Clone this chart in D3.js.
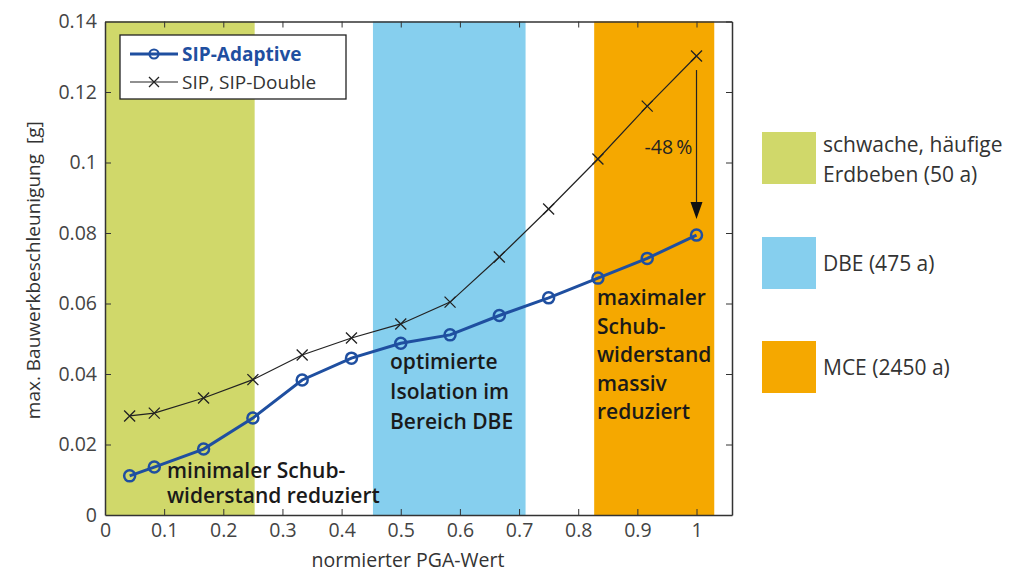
<!DOCTYPE html>
<html><head><meta charset="utf-8">
<script src="https://cdn.jsdelivr.net/npm/d3@7"></script>
<style>body{margin:0;background:#fff;}svg{display:block;font-family:"Open Sans", sans-serif;}</style>
</head><body><svg id="c" width="1018" height="572"></svg>
<script>
const xValues = [1/24, 1/12, 2/12, 3/12, 4/12, 5/12, 6/12, 7/12, 8/12, 9/12, 10/12, 11/12, 1];
const sipAdaptive = [0.0111, 0.0136, 0.0187, 0.0275, 0.0383, 0.0445, 0.0487, 0.0511, 0.0566, 0.0616, 0.0672, 0.0728, 0.0794];
const sipDouble = [0.0281, 0.0289, 0.0332, 0.0384, 0.0454, 0.0502, 0.0542, 0.0604, 0.0732, 0.0868, 0.1010, 0.1160, 0.1302];
const xTicks = [0, 0.1, 0.2, 0.3, 0.4, 0.5, 0.6, 0.7, 0.8, 0.9, 1];
const yTicks = [0, 0.02, 0.04, 0.06, 0.08, 0.1, 0.12, 0.14];
const yTickLabels = ["0", "0.02", "0.04", "0.06", "0.08", "0.1", "0.12", "0.14"];
const bandNames = ["schwache, häufige\nErdbeben (50 a)", "DBE (475 a)", "MCE (2450 a)"];
const bandStart = [0, 0.453, 0.827];
const bandEnd = [0.253, 0.711, 1.03];
const bandColors = ["#d0d86a", "#86cfee", "#f5a800"];
const seriesNames = ["SIP-Adaptive", "SIP, SIP-Double"];

const svg = d3.select("#c");
const L = 105, R = 732, T = 21.5, B = 515;
const x = d3.scaleLinear().domain([0, 1.06]).range([L, R]);
const y = d3.scaleLinear().domain([0, 0.14]).range([B, T]);

// bands
bandStart.forEach((s, i) => {
  svg.append("rect").attr("x", x(s)).attr("y", T).attr("width", x(bandEnd[i]) - x(s)).attr("height", B - T).attr("fill", bandColors[i]);
});

// axes (box with inward ticks)
const axCol = "#333";
const gB = svg.append("g").attr("transform", `translate(0,${B})`).call(d3.axisBottom(x).tickValues(xTicks).tickSizeInner(-6).tickSizeOuter(0).tickPadding(8).tickFormat(d3.format("~g")));
const gT = svg.append("g").attr("transform", `translate(0,${T})`).call(d3.axisTop(x).tickValues(xTicks).tickSizeInner(-6).tickSizeOuter(0).tickFormat(""));
const gL = svg.append("g").attr("transform", `translate(${L},0)`).call(d3.axisLeft(y).tickValues(yTicks).tickSizeInner(-6).tickSizeOuter(0).tickPadding(8).tickFormat((d, i) => yTickLabels[i]));
const gR = svg.append("g").attr("transform", `translate(${R},0)`).call(d3.axisRight(y).tickValues(yTicks).tickSizeInner(-6).tickSizeOuter(0).tickFormat(""));
[gB, gT, gL, gR].forEach(g => {
  g.select(".domain").attr("stroke", axCol).attr("stroke-width", 1.5);
  g.selectAll(".tick line").attr("stroke", axCol).attr("stroke-width", 1);
  g.selectAll("text").attr("fill", "#444").style("font-size", "19.5px").style("font-family", "'Open Sans', sans-serif");
});
gL.selectAll(".tick").filter(d => d === 0.14 || d === 0).select("line").remove();
gB.selectAll(".tick").filter(d => d === 0).select("line").remove();

// lines
const line = d3.line().x((d, i) => x(xValues[i])).y(d => y(d));
svg.append("path").datum(sipDouble).attr("d", line).attr("fill", "none").attr("stroke", "#222").attr("stroke-width", 1.2);
svg.append("path").datum(sipAdaptive).attr("d", line).attr("fill", "none").attr("stroke", "#1f4fa0").attr("stroke-width", 3);
const cr = 5.5;
sipDouble.forEach((v, i) => {
  const cx = x(xValues[i]), cy = y(v);
  svg.append("path").attr("d", `M${cx - cr},${cy - cr}L${cx + cr},${cy + cr}M${cx - cr},${cy + cr}L${cx + cr},${cy - cr}`).attr("stroke", "#222").attr("stroke-width", 1.3);
});
svg.selectAll("circle.m").data(sipAdaptive).enter().append("circle").attr("class", "m")
  .attr("cx", (d, i) => x(xValues[i])).attr("cy", d => y(d)).attr("r", 5.5)
  .attr("fill", "none").attr("stroke", "#1f4fa0").attr("stroke-width", 2.5);

// arrow
const ax = x(1);
svg.append("line").attr("x1", ax).attr("x2", ax).attr("y1", y(sipDouble[12]) + 14).attr("y2", y(sipAdaptive[12]) - 20).attr("stroke", "#222").attr("stroke-width", 1.2);
svg.append("path").attr("d", `M${ax - 6},${y(sipAdaptive[12]) - 33}L${ax + 6},${y(sipAdaptive[12]) - 33}L${ax},${y(sipAdaptive[12]) - 16}Z`).attr("fill", "#111");
svg.append("text").attr("x", ax - 4).attr("y", 154).attr("text-anchor", "end").attr("fill", "#222").style("font-size", "19.5px").text("-48\u2009%");

// annotations
const ann = [
  {x: 167, y: 478, gap: 24.5, lines: ["minimaler Schub-", "widerstand reduziert"]},
  {x: 390, y: 369, gap: 30, lines: ["optimierte", "Isolation im", "Bereich DBE"]},
  {x: 597, y: 305, gap: 28.5, lines: ["maximaler", "Schub-", "widerstand", "massiv", "reduziert"]}
];
ann.forEach(a => {
  const t = svg.append("text").attr("x", a.x).attr("y", a.y).attr("fill", "#1a1a1a").style("font-size", "21px").style("font-weight", "600");
  a.lines.forEach((l, i) => t.append("tspan").attr("x", a.x).attr("dy", i ? a.gap : 0).text(l));
});

// legend box
svg.append("rect").attr("x", 120).attr("y", 35).attr("width", 226).attr("height", 64).attr("fill", "#fff").attr("stroke", "#222").attr("stroke-width", 1.3);
svg.append("line").attr("x1", 130).attr("x2", 178).attr("y1", 54).attr("y2", 54).attr("stroke", "#1f4fa0").attr("stroke-width", 3);
svg.append("circle").attr("cx", 154).attr("cy", 54).attr("r", 4.5).attr("fill", "none").attr("stroke", "#1f4fa0").attr("stroke-width", 2.2);
svg.append("text").attr("x", 182).attr("y", 61).attr("fill", "#1f4fa0").style("font-size", "19px").style("font-weight", "bold").text(seriesNames[0]);
svg.append("line").attr("x1", 130).attr("x2", 178).attr("y1", 82).attr("y2", 82).attr("stroke", "#222").attr("stroke-width", 1.2);
svg.append("path").attr("d", `M${154 - 5},${82 - 5}L${154 + 5},${82 + 5}M${154 - 5},${82 + 5}L${154 + 5},${82 - 5}`).attr("stroke", "#222").attr("stroke-width", 1.3);
svg.append("text").attr("x", 182).attr("y", 89).attr("fill", "#333").style("font-size", "19px").text(seriesNames[1]);

// right legend
const legY = [132, 237, 341];
bandNames.forEach((n, i) => {
  svg.append("rect").attr("x", 762).attr("y", legY[i]).attr("width", 54).attr("height", 52).attr("fill", bandColors[i]);
  const lines = n.split("\n");
  const t = svg.append("text").attr("x", 823).attr("fill", "#333").style("font-size", "21px")
    .attr("y", lines.length > 1 ? legY[i] + 20 : legY[i] + 34);
  lines.forEach((l, j) => t.append("tspan").attr("x", 823).attr("dy", j ? 30 : 0).text(l));
});

// axis titles
svg.append("text").attr("x", 408).attr("y", 567).attr("text-anchor", "middle").attr("fill", "#333").style("font-size", "19.5px").text("normierter PGA-Wert");
svg.append("text").attr("transform", `translate(40,${(T + B) / 2 + 2}) rotate(-90)`).attr("text-anchor", "middle").attr("fill", "#333").style("font-size", "19px").text("max. Bauwerkbeschleunigung\u00a0\u00a0[g]");
</script></body></html>
